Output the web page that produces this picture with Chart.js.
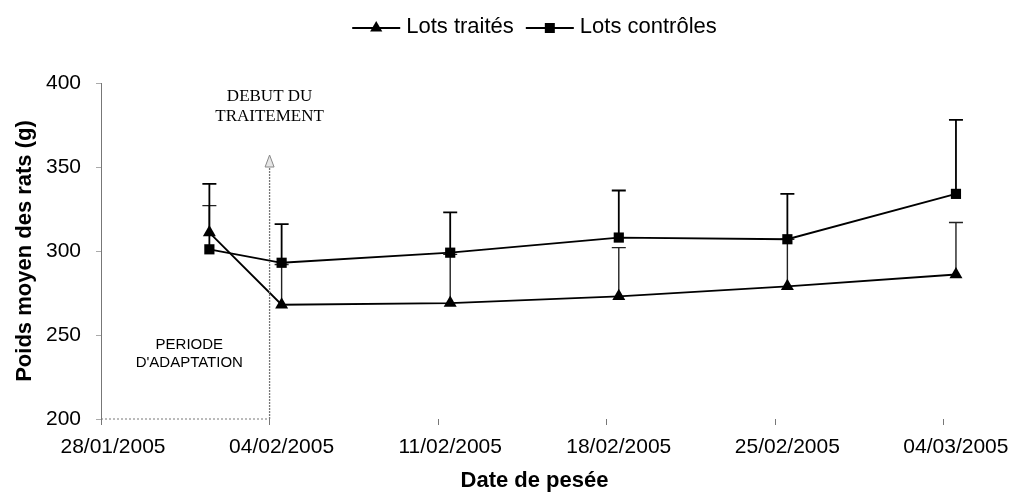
<!DOCTYPE html>
<html lang="fr">
<head>
<meta charset="utf-8">
<title>Poids moyen des rats</title>
<script src="https://cdn.jsdelivr.net/npm/chart.js@4/dist/chart.umd.min.js"></script>
<style>
  html, body { margin: 0; padding: 0; background: #fff; }
  #wrap { position: relative; width: 1015px; height: 499px; }
</style>
</head>
<body>
<div id="wrap"><canvas id="c" width="1015" height="499"></canvas></div>
<script>
// Dates of weighing and mean weights (g) with upper standard deviation
const datesPesee = ['01/02/2005', '04/02/2005', '11/02/2005', '18/02/2005', '25/02/2005', '04/03/2005'];
const poidsTraites = [311, 268, 269, 273, 279, 286];
const ecartTraites = [16, 24, 29, 29, 28, 31];
const poidsControles = [301, 293, 299, 308, 307, 334];
const ecartControles = [39, 23, 24, 28, 27, 44];
const xTickLabels = ['28/01/2005', '04/02/2005', '11/02/2005', '18/02/2005', '25/02/2005', '04/03/2005'];
const yTicks = [200, 250, 300, 350, 400];
const debutTraitement = '04/02/2005';

const FONT = "'Liberation Sans', Arial, sans-serif";
const SERIF = "'Liberation Serif', 'Times New Roman', serif";

// day number counted from the first axis date
function dayNumber(s) {
  const [d, m, y] = s.split('/').map(Number);
  return Date.UTC(y, m - 1, d) / 86400000;
}
const origin = dayNumber(xTickLabels[0]);
const dayOf = s => dayNumber(s) - origin;
// each weighing is drawn in the middle of its day
const serie = vals => datesPesee.map((d, i) => ({ x: dayOf(d) + 0.5, y: vals[i] }));

const ecarts = [ecartTraites, ecartControles];

// upward error bars with caps, drawn beneath the markers
const errorBars = {
  id: 'errorBars',
  beforeDatasetsDraw(chart) {
    const { ctx, scales: { y } } = chart;
    chart.data.datasets.forEach((ds, di) => {
      const meta = chart.getDatasetMeta(di);
      ctx.save();
      ctx.strokeStyle = di === 0 ? '#222' : '#000';
      ctx.lineWidth = di === 0 ? 1.4 : 1.8;
      meta.data.forEach((pt, i) => {
        const top = y.getPixelForValue(ds.data[i].y + ecarts[di][i]);
        ctx.beginPath();
        ctx.moveTo(pt.x, pt.y);
        ctx.lineTo(pt.x, top);
        ctx.moveTo(pt.x - 7, top);
        ctx.lineTo(pt.x + 7, top);
        ctx.stroke();
      });
      ctx.restore();
    });
  }
};

// adaptation period frame, treatment start arrow and their captions
const annotations = {
  id: 'annotations',
  afterDatasetsDraw(chart) {
    const { ctx, scales: { x, y } } = chart;
    const x0 = x.getPixelForValue(0);
    const xt = x.getPixelForValue(dayOf(debutTraitement));
    const yb = y.getPixelForValue(200);
    ctx.save();
    ctx.strokeStyle = '#777';
    ctx.lineWidth = 1;
    ctx.setLineDash([2, 2]);
    ctx.beginPath();
    ctx.moveTo(x0, yb);
    ctx.lineTo(xt, yb);
    ctx.stroke();
    ctx.setLineDash([2, 1]);
    ctx.lineWidth = 1.3;
    ctx.beginPath();
    ctx.moveTo(xt, yb);
    ctx.lineTo(xt, 166);
    ctx.stroke();
    ctx.setLineDash([]);
    ctx.beginPath();
    ctx.moveTo(xt, 155);
    ctx.lineTo(xt - 4.5, 167);
    ctx.lineTo(xt + 4.5, 167);
    ctx.closePath();
    ctx.fillStyle = '#e6e6e6';
    ctx.fill();
    ctx.strokeStyle = '#888';
    ctx.lineWidth = 1;
    ctx.stroke();

    ctx.fillStyle = '#000';
    ctx.textAlign = 'center';
    ctx.textBaseline = 'middle';
    ctx.font = '17px ' + SERIF;
    ctx.fillText('DEBUT DU', xt, 97);
    ctx.fillText('TRAITEMENT', xt, 117);
    ctx.font = '15px ' + FONT;
    const xm = (x0 + xt) / 2 + 4;
    ctx.fillText('PERIODE', xm, 345);
    ctx.fillText("D'ADAPTATION", xm, 363);
    ctx.restore();
  }
};

function drawMarker(ctx, style, cx, cy) {
  ctx.beginPath();
  if (style === 'triangle') {
    ctx.moveTo(cx, cy - 7);
    ctx.lineTo(cx - 6.1, cy + 3.5);
    ctx.lineTo(cx + 6.1, cy + 3.5);
    ctx.closePath();
  } else {
    ctx.rect(cx - 5, cy - 5, 10, 10);
  }
  ctx.fill();
}

// legend at the top: line segment with marker, then label
const legendTop = {
  id: 'legendTop',
  afterDraw(chart) {
    const { ctx, chartArea } = chart;
    ctx.save();
    ctx.font = '22px ' + FONT;
    const lineLen = 48, gap = 6, between = 12;
    const items = chart.data.datasets.map(ds => ({ ds, w: ctx.measureText(ds.label).width }));
    const total = items.reduce((s, it) => s + lineLen + gap + it.w, 0) + between * (items.length - 1);
    let cx = (chartArea.left + chartArea.right) / 2 - total / 2;
    const ly = 28;
    items.forEach(({ ds, w }) => {
      ctx.strokeStyle = '#000';
      ctx.fillStyle = '#000';
      ctx.lineWidth = 1.8;
      ctx.beginPath();
      ctx.moveTo(cx, ly);
      ctx.lineTo(cx + lineLen, ly);
      ctx.stroke();
      drawMarker(ctx, ds.pointStyle, cx + lineLen / 2, ly);
      ctx.textAlign = 'left';
      ctx.textBaseline = 'alphabetic';
      ctx.fillText(ds.label, cx + lineLen + gap, 33);
      cx += lineLen + gap + w + between;
    });
    ctx.restore();
  }
};

new Chart(document.getElementById('c'), {
  type: 'line',
  data: {
    datasets: [
      {
        label: 'Lots traités',
        data: serie(poidsTraites),
        borderColor: '#000',
        backgroundColor: '#000',
        borderWidth: 1.8,
        pointStyle: 'triangle',
        pointRadius: 7.5,
        pointBorderWidth: 0,
        tension: 0
      },
      {
        label: 'Lots contrôles',
        data: serie(poidsControles),
        borderColor: '#000',
        backgroundColor: '#000',
        borderWidth: 1.8,
        pointStyle: 'rect',
        pointRadius: 7.2,
        pointBorderWidth: 0,
        tension: 0
      }
    ]
  },
  options: {
    responsive: false,
    animation: false,
    events: [],
    layout: { padding: { top: 83, right: 47, left: 0, bottom: 0 } },
    plugins: { legend: { display: false }, tooltip: { enabled: false } },
    scales: {
      x: {
        type: 'linear',
        min: 0,
        max: dayOf(xTickLabels[xTickLabels.length - 1]) + 1,
        afterBuildTicks(scale) {
          scale.ticks = xTickLabels.map(l => ({ value: dayOf(l) }));
        },
        afterFit(scale) { scale.height = 80; },
        border: { display: false },
        grid: { drawOnChartArea: false, drawTicks: true, tickLength: 6, color: '#777', lineWidth: 1 },
        ticks: {
          callback: (v, i) => xTickLabels[i],
          labelOffset: 12,
          padding: 10,
          maxRotation: 0,
          autoSkip: false,
          color: '#000',
          font: { family: FONT, size: 21 }
        },
        title: {
          display: true,
          text: 'Date de pesée',
          color: '#000',
          font: { family: FONT, size: 22, weight: 'bold' },
          padding: { top: 0, bottom: 5 }
        }
      },
      y: {
        min: yTicks[0],
        max: yTicks[yTicks.length - 1],
        afterBuildTicks(scale) {
          scale.ticks = yTicks.map(v => ({ value: v }));
        },
        afterFit(scale) { scale.width = 101; },
        border: { display: true, color: '#777', dash: [2, 2], width: 1 },
        grid: { drawOnChartArea: false, drawTicks: true, tickLength: 5, color: '#aaa' },
        ticks: {
          padding: 15,
          color: '#000',
          font: { family: FONT, size: 21 }
        },
        title: {
          display: true,
          text: 'Poids moyen des rats (g)',
          color: '#000',
          font: { family: FONT, size: 22, weight: 'bold' },
          padding: { top: 12, bottom: 0 }
        }
      }
    }
  },
  plugins: [errorBars, annotations, legendTop]
});
</script>
</body>
</html>
